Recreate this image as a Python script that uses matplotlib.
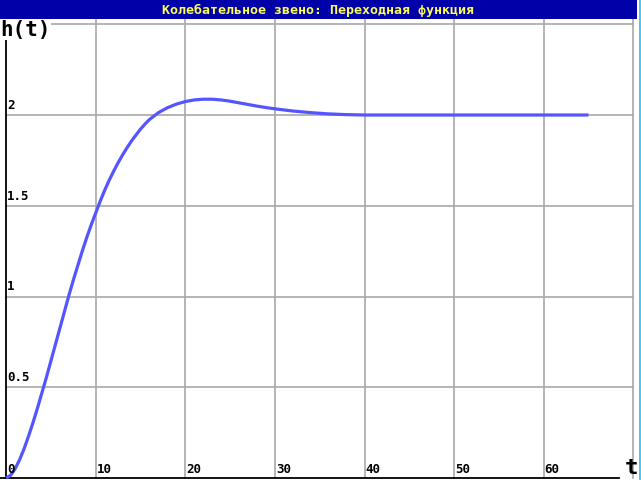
import matplotlib
matplotlib.use('Agg')
import matplotlib.pyplot as plt
from matplotlib.patches import Rectangle

# values
title = 'Колебательное звено: Переходная функция'
t = [0, 0.5, 1, 1.5, 2, 2.5, 3, 3.5, 4, 4.5, 5, 5.5, 6, 6.5, 7, 7.5, 8, 8.5, 9, 9.5,
     10, 10.5, 11, 11.5, 12, 12.5, 13, 13.5, 14, 14.5, 15, 15.5, 16, 17, 18, 19,
     20, 21, 22, 23, 24, 25, 26, 27, 28, 29, 30, 32, 34, 36, 38, 40, 45, 50, 55, 60, 65]
h = [0, 0.015, 0.05, 0.1, 0.16, 0.23, 0.305, 0.385, 0.47, 0.555,
     0.645, 0.735, 0.825, 0.915, 1.005, 1.09, 1.17, 1.25, 1.325, 1.395,
     1.46, 1.525, 1.585, 1.64, 1.69, 1.737, 1.78, 1.82, 1.857, 1.89,
     1.922, 1.95, 1.975, 2.013, 2.04, 2.06, 2.074, 2.083, 2.087, 2.087,
     2.083, 2.076, 2.067, 2.058, 2.049, 2.041, 2.034, 2.022, 2.013, 2.006,
     2.002, 2.0, 2.0, 2.0, 2.0, 2.0, 2.0]
x_ticks = [0, 10, 20, 30, 40, 50, 60]
x_grid = [10, 20, 30, 40, 50, 60, 70]
y_ticks = [0.5, 1, 1.5, 2]
y_ticks_lbl = ['0.5', '1', '1.5', '2']
y_grid = [0.5, 1, 1.5, 2, 2.5]

W, H = 641, 480
fig = plt.figure(figsize=(W / 100, H / 100), dpi=100)
fig.patch.set_facecolor('white')

# axes fill the area under the title bar; limits chosen so the grid lands on the pixels
ax = fig.add_axes([0, 0, 1, 461 / H])
ax.set_xlim(-6.1 / 8.96, (W - 6.1) / 8.96)
ax.set_ylim(-2 / 181.5, 461 / 181.5 - 2 / 181.5)
ax.axis('off')

gcol = '#a8a8a8'
for xv in x_grid:
    ax.plot([xv, xv], [0, 3], color=gcol, lw=1.2, zorder=1)
for yv in y_grid:
    ax.plot([0, 70], [yv, yv], color=gcol, lw=1.2, zorder=1)

# axes lines
ax.plot([0, 0], [0, 3], color='black', lw=1.3, zorder=2)
ax.plot([-1, 68.4], [0, 0], color='black', lw=1.3, zorder=2)

ax.plot(t, h, color='#5555ff', lw=2.3, zorder=3, solid_capstyle='butt')

fnt = dict(family='DejaVu Sans Mono', weight='bold', fontsize=9, color='black')
for xv in x_ticks:
    ax.annotate(str(xv), (xv, 0), xytext=(1, 2), textcoords='offset pixels',
                ha='left', va='bottom', zorder=4, **fnt)
for yv, lb in zip(y_ticks, y_ticks_lbl):
    ax.annotate(lb, (0, yv), xytext=(1, 3), textcoords='offset pixels',
                ha='left', va='bottom', zorder=4, **fnt)

ax.text(-0.7, 2.47, 'h(t)', ha='left', va='center', family='DejaVu Sans Mono',
        weight='bold', fontsize=15, zorder=5,
        bbox=dict(facecolor='white', edgecolor='none', pad=0.5))
ax.annotate('t', (69.0, 0), xytext=(0, 0), textcoords='offset pixels',
            ha='left', va='bottom', family='DejaVu Sans Mono', weight='bold',
            fontsize=16, zorder=5)

# title bar
fig.patches.append(Rectangle((0, 1 - 19 / H), 637 / W, 19 / H, transform=fig.transFigure,
                             facecolor='#0000a8', edgecolor='none', zorder=0))
fig.text(318 / W, 1 - 10 / H, title, ha='center', va='center', color='#ffff55',
         family='DejaVu Sans Mono', weight='bold', fontsize=9.5)
# right window border
fig.patches.append(Rectangle((639 / W, 0), 2 / W, 1, transform=fig.transFigure,
                             facecolor='#48c8f8', edgecolor='none', zorder=0))

fig.savefig('out.png', dpi=100)
